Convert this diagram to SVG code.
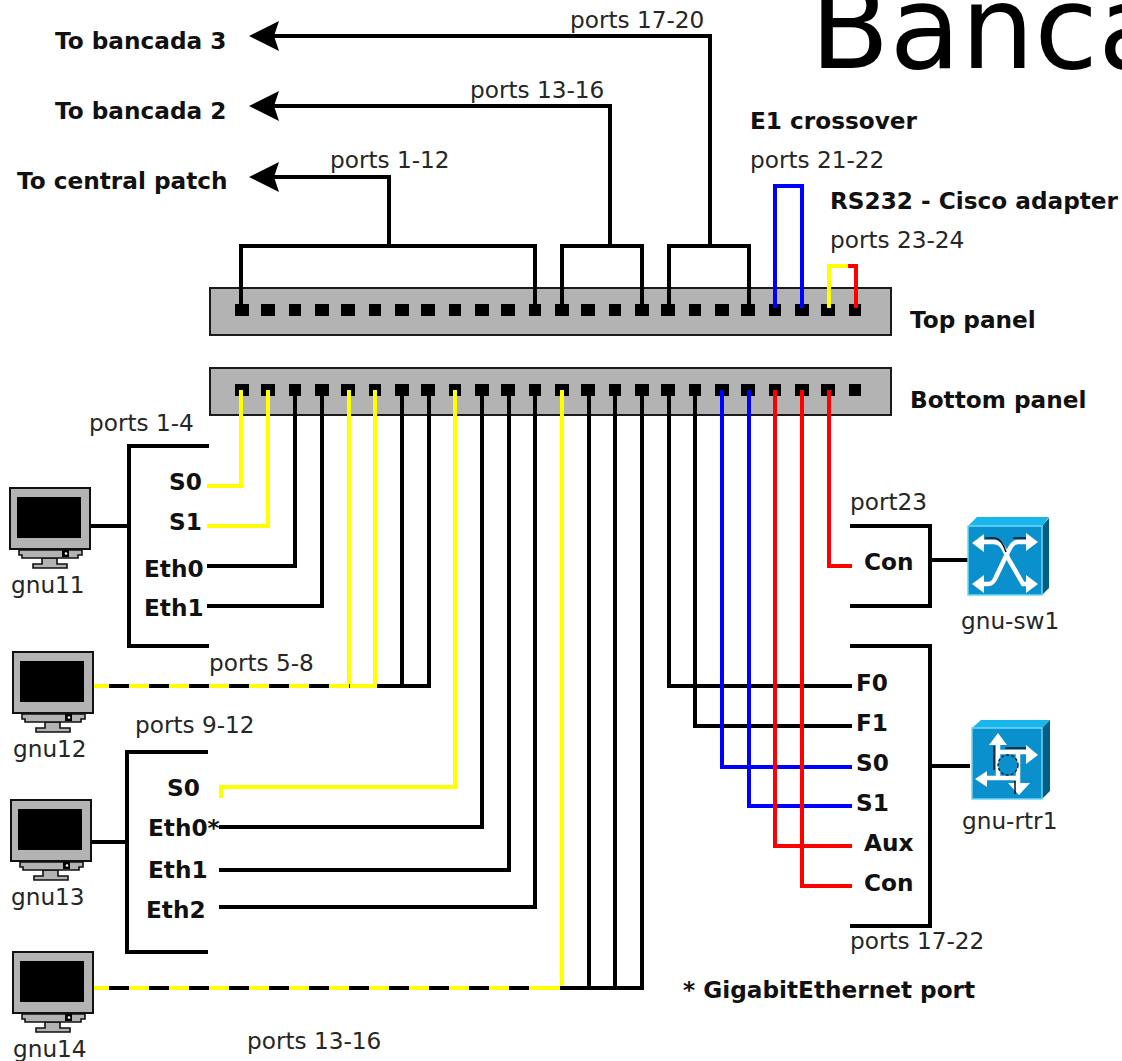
<svg xmlns="http://www.w3.org/2000/svg" xmlns:xlink="http://www.w3.org/1999/xlink" width="1122" height="1061" viewBox="0 0 1122 1061">
<style>
text{font-family:"DejaVu Sans",sans-serif;font-size:23.2px;fill:#262626}
.b{font-weight:bold;fill:#111}
.k,.y,.u,.r,.d{fill:none;stroke-width:4}
.k{stroke:#000}.y{stroke:#ff0}.u{stroke:#00f}.r{stroke:#f00}
.d{stroke:#000;stroke-dasharray:20 20}
.panel{fill:#b3b3b3;stroke:#1a1a1a;stroke-width:2}
.p{fill:#000}
.mf{fill:#b3b3b3;stroke:#111;stroke-width:2}
.ms{fill:#b3b3b3;stroke:#111;stroke-width:1.6}
.cf{fill:#0a90cc;stroke:#6fd6f6;stroke-width:1.5}
.ct{fill:#18b6ea}.cs{fill:#005f86}
.ci{fill:none;stroke:#fff;stroke-width:4.5}
.cd{fill:none;stroke:#111;stroke-width:1.5}
.cw{fill:#fff}
</style>
<defs>
<g id="mon">
<rect class="mf" x="0" y="0" width="80" height="61"/>
<rect class="p" x="7" y="9" width="64" height="41"/>
<path class="ms" d="M32 70V76H23V80H57V76H47V70Z"/>
<path class="ms" d="M9 62H72V67H68V70H12V67H9Z"/>
<rect class="p" x="52" y="62" width="7" height="7"/>
<circle cx="56" cy="65.500" r="1.300" fill="#fff"/>
</g>
<path id="tri" d="M235 0h14v12h-14zM261 0h14v12h-14zM289 0h12v12h-12z"/>
<g id="row">
<use href="#tri" xlink:href="#tri"/>
<use href="#tri" xlink:href="#tri" x="80"/>
<use href="#tri" xlink:href="#tri" x="160"/>
<use href="#tri" xlink:href="#tri" x="240"/>
<use href="#tri" xlink:href="#tri" x="320"/>
<use href="#tri" xlink:href="#tri" x="400"/>
<use href="#tri" xlink:href="#tri" x="480"/>
<use href="#tri" xlink:href="#tri" x="560"/>
</g>
<path id="ah" d="M249 0L279 -15L274 0L279 15Z"/>
</defs>
<text id="title" x="810" y="68" style="font-size:116px;fill:#000">Banca</text>
<g id="top-panel">
<rect class="panel" x="210" y="288" width="681" height="47"/>
<use class="p" href="#row" xlink:href="#row" y="304"/>
</g>
<g id="bottom-panel">
<rect class="panel" x="210" y="368" width="681" height="47"/>
<use class="p" href="#row" xlink:href="#row" y="384"/>
</g>
<g id="connectors">
<path class="k" d="M265 36H710V246H669V306M710 246H749V306"/>
<path class="k" d="M265 106H610V246H562V306M610 246H642V306"/>
<path class="k" d="M265 177H389V246H241V306M389 246H535V306"/>
<path class="u" d="M775 308V186H802V308"/>
<path class="y" d="M829 308V266H848"/>
<path class="r" d="M848 266H856V308"/>
<path class="k" d="M209 446H129V646H209M90 526H129"/>
<path class="y" d="M241 390V486H207M268 390V526H207"/>
<path class="k" d="M295 390V566H207M322 390V606H207"/>
<path class="k" d="M375 686H429V390M402 390V686"/>
<path class="y" d="M92 686H375V390M349 390V686"/>
<path class="d" d="M109 686H350"/>
<path class="k" d="M127 842H90M208 752H127V952H208"/>
<path class="y" d="M221 798V787H455V390"/>
<path class="k" d="M219 827H482V390M219 870H509V390M219 907H535V390"/>
<path class="k" d="M560 988H642V390M589 390V988M615 390V988"/>
<path class="y" d="M92 988H560M562 390V986"/>
<path class="d" d="M109 988H540"/>
<path class="k" d="M669 390V686H852M695 390V726H852"/>
<path class="u" d="M722 390V767H852M749 390V806H852"/>
<path class="r" d="M775 390V846H852M802 390V886H852M829 390V566H852"/>
<path class="k" d="M850 526H930V606H850M930 560H970"/>
<path class="k" d="M850 646H930V926H850M930 766H970"/>
</g>
<g id="arrows">
<use class="p" href="#ah" xlink:href="#ah" y="36"/>
<use class="p" href="#ah" xlink:href="#ah" y="106"/>
<use class="p" href="#ah" xlink:href="#ah" y="177"/>
</g>
<g id="gnu11"><use href="#mon" xlink:href="#mon" x="10" y="488"/><text x="11" y="593">gnu11</text></g>
<g id="gnu12"><use href="#mon" xlink:href="#mon" x="13" y="652"/><text x="13" y="757">gnu12</text></g>
<g id="gnu13"><use href="#mon" xlink:href="#mon" x="11" y="800"/><text x="11" y="905">gnu13</text></g>
<g id="gnu14"><use href="#mon" xlink:href="#mon" x="13" y="952"/><text x="13" y="1057">gnu14</text></g>
<g id="gnu-sw1">
<path class="ct" d="M968 526L977 517H1049L1042 526Z"/>
<path class="cs" d="M1042 526L1049 518V588L1042 595Z"/>
<rect class="cf" x="968" y="526" width="74" height="69"/>
<path class="ci" d="M982 542H993C1003 542 1005 552 1008 558L1023 584H1030M1030 542H1018C1012 542 1010 548 1006 556L996 577C994 582 992 584 988 584H982"/>
<path class="cw" d="M972 543L984 534V552ZM1038 542L1026 533V551ZM972 584L984 575V593ZM1038 584L1026 575V593Z"/>
<path class="cd" d="M985 538H995C1001 539 1004 546 1006 552M1013 538H1026"/>
<text x="961" y="629">gnu-sw1</text>
</g>
<g id="gnu-rtr1">
<path class="ct" d="M972 728L981 720H1050L1042 728Z"/>
<path class="cs" d="M1042 728L1050 720V791L1042 799Z"/>
<rect class="cf" x="972" y="728" width="70" height="71"/>
<path class="ci" d="M998 745V778M1000 752H1026M985 778H1018M1018 752V785"/>
<circle cx="1008" cy="765" r="10" fill="#0a90cc" stroke="#111" stroke-width="1.300" stroke-dasharray="3 2"/>
<path class="cw" d="M998 733L1007 745H989ZM1038 755L1026 745V764ZM975 779L987 771V787ZM1019 795L1008 783H1030Z"/>
<path class="cd" d="M994 746V770M1005 748H1026M1015 781V794"/>
<text x="962" y="829">gnu-rtr1</text>
</g>
<g id="labels">
<text x="570" y="28">ports 17-20</text>
<text x="470" y="98">ports 13-16</text>
<text x="330" y="168">ports 1-12</text>
<text x="750" y="168">ports 21-22</text>
<text x="830" y="248">ports 23-24</text>
<text x="89" y="431">ports 1-4</text>
<text x="209" y="671">ports 5-8</text>
<text x="135" y="733">ports 9-12</text>
<text x="247" y="1049">ports 13-16</text>
<text x="850" y="510">port23</text>
<text x="850" y="949">ports 17-22</text>
<text class="b" x="55" y="49">To bancada 3</text>
<text class="b" x="55" y="119">To bancada 2</text>
<text class="b" x="17" y="189">To central patch</text>
<text class="b" x="750" y="129">E1 crossover</text>
<text class="b" x="830" y="209">RS232 - Cisco adapter</text>
<text class="b" x="910" y="328">Top panel</text>
<text class="b" x="910" y="408">Bottom panel</text>
<text class="b" x="169" y="490">S0</text>
<text class="b" x="169" y="530">S1</text>
<text class="b" x="144" y="577">Eth0</text>
<text class="b" x="144" y="616">Eth1</text>
<text class="b" x="167" y="796">S0</text>
<text class="b" x="148" y="836">Eth0*</text>
<text class="b" x="148" y="878">Eth1</text>
<text class="b" x="146" y="918">Eth2</text>
<text class="b" x="864" y="570">Con</text>
<text class="b" x="856" y="691">F0</text>
<text class="b" x="856" y="731">F1</text>
<text class="b" x="856" y="771">S0</text>
<text class="b" x="856" y="811">S1</text>
<text class="b" x="864" y="851">Aux</text>
<text class="b" x="864" y="891">Con</text>
<text class="b" x="683" y="998">* GigabitEthernet port</text>
</g>
</svg>
